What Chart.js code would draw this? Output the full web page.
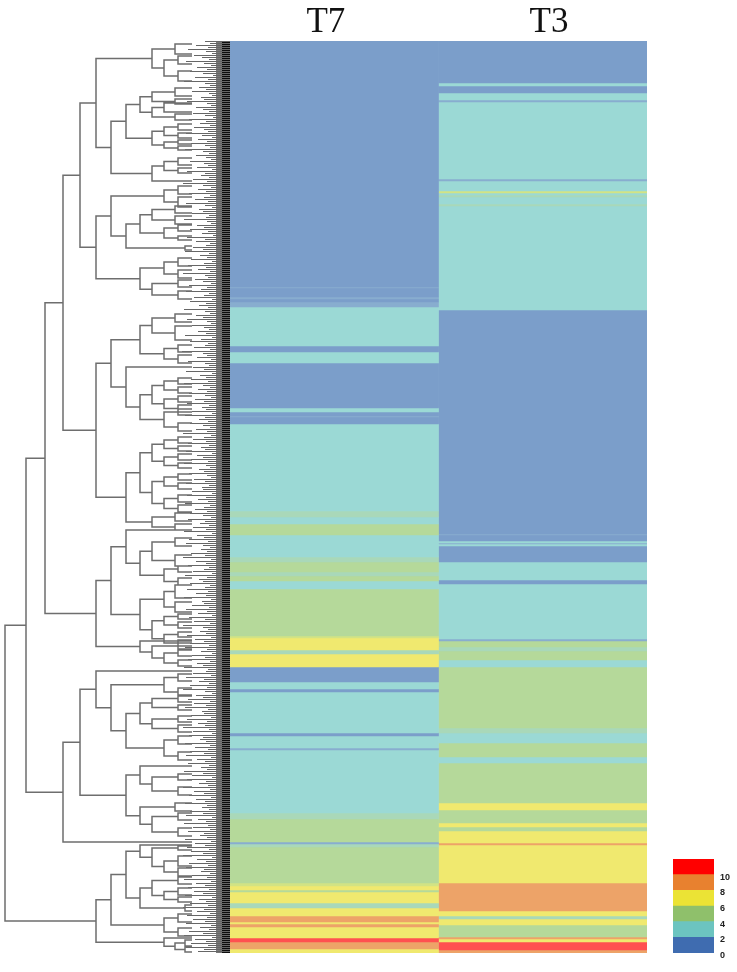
<!DOCTYPE html>
<html>
<head>
<meta charset="utf-8">
<script src="https://cdn.jsdelivr.net/npm/chart.js@4"></script>
<style>
  html, body { margin: 0; padding: 0; background: #fff; overflow: hidden; }
  canvas { position: absolute; top: 0; }
  #dendroChart { left: 0; filter: blur(0.55px); }
  #heatChart { left: 230px; filter: blur(0.35px); }
  #legendChart { left: 660px; filter: blur(0.35px); }
</style>
</head>
<body>
<canvas id="dendroChart" width="230" height="972"></canvas>
<canvas id="heatChart" width="417" height="972"></canvas>
<canvas id="legendChart" width="77" height="972"></canvas>
<script>
// Colunas do heatmap
const columnLabels = ['T7', 'T3'];
const columnLabelPositions = [0.46, 1.53];

// Cada faixa: quantos genes e qual o nivel de expressao
const t7Counts = [246,1,9,2,3,5,39,6,11,45,4,4,1,7,87,6,7,11,22,5,10,4,5,8,47,2,12,4,13,15,7,3,41,3,12,2,63,6,23,2,3,36,3,4,2,11,5,8,6,2,3,11,4,7,4];
const t7Levels = [1,2,1,2,1,2,3,1,3,1,3,1,2,1,3,4,3,5,3,4,5,4,5,3,5,6,7,4,7,1,3,1,3,1,3,2,3,4,5,2,4,5,6,7,5,7,4,7,9,7,9,7,11,9,7];
const t3Counts = [42,3,7,7,2,77,2,10,2,2,2,7,2,104,224,1,6,2,1,2,16,18,4,55,2,6,4,9,7,61,5,10,14,6,40,7,13,4,4,12,2,38,28,5,3,6,12,2,3,8,3];
const t3Levels = [1,3,1,3,2,3,2,3,6,3,4,3,4,3,1,2,1,3,2,3,1,3,1,3,2,5,4,5,3,5,4,3,5,3,5,7,5,7,5,7,9,7,9,7,4,7,5,9,7,11,9];
const levelColors = [null,'#7b9eca','#88adcf','#9bd9d5','#a9d8b9','#b5d99a','#d2e384','#f0e96f','#efc86c','#eda368','#f87a5c','#ff5050'];

// Legenda
const legendSteps = [2,2,2,2,2,2];
const legendColors = ['#3f6cb0','#6cc4c0','#8fc06b','#ebe335','#e8812f','#ff0000'];

// Dendrograma: [altura, filho de cima, filho de baixo]; numero = linha da folha
const clusterTree = [5,
  [26,
    [45,
      [63,
        [80,
          [96,
            [152,[175,44,54],[164,[178,56,64],[178,71,81]]],
            [111,
              [126,
                [140,[152,[175,88,96],[175,99,104]],[152,[164,103,112],[175,114,120]]],
                [152,[164,[178,124,130],[178,133,138]],[164,[178,140,144],[178,146,150]]]
              ],
              [152,[164,[178,158,165],[178,168,173]],181]
            ]
          ],
          [96,
            [111,
              [164,[178,186,194],[178,197,207]],
              [126,
                [140,[152,[175,206,213],[175,216,224]],[164,[178,225,231],[178,236,240]]],
                [185,246,250]
              ]
            ],
            [140,
              [164,[178,258,266],[178,270,278]],
              [152,[178,280,287],[178,291,299]]
            ]
          ]
        ],
        [96,
          [111,
            [140,[152,[175,314,322],[175,326,340]],[164,[178,345,352],[178,355,363]]],
            [126,
              367,
              [140,
                [152,[164,[178,378,384],[178,387,393]],[164,[178,396,402],[178,405,412]]],
                [164,[178,409,415],[178,423,431]]
              ]
            ]
          ],
          [126,
            [140,
              [152,[164,[178,437,443],[178,446,451]],[164,[178,454,460],[178,463,468]]],
              [152,[164,[178,474,480],[178,483,489]],[164,[178,495,502],[178,505,512]]]
            ],
            [152,[175,513,521],[175,524,530]]
          ]
        ]
      ],
      [96,
        [111,
          [126,
            530,
            [140,[152,[175,538,546],[175,555,566]],[164,[178,566,572],[178,578,585]]]
          ],
          [140,
            [164,[175,585,598],[175,602,612]],
            [152,[164,[178,614,619],[178,622,628]],[164,[178,632,637],[178,640,646]]]
          ]
        ],
        [140,641,[152,[178,643,649],[164,[178,650,656],[178,660,666]]]]
      ]
    ],
    [63,
      [80,
        [96,
          671,
          [111,
            [164,[178,674,681],[178,688,696]],
            [126,
              [140,[152,[178,695,702],[178,705,710]],[152,[178,716,722],[178,725,732]]],
              [164,[178,736,744],[178,752,760]]
            ]
          ]
        ],
        [126,
          [140,766,[152,[178,774,780],[178,787,795]]],
          [140,[175,803,811],[152,[178,813,820],[178,828,836]]]
        ]
      ],
      842
    ]
  ],
  [96,
    [111,
      [126,
        [140,845,[152,[178,846,850],[164,[178,856,866],[178,868,876]]]],
        [140,[152,[178,877,884],[164,[178,888,895],[178,897,902]]],[185,905,911]]
      ],
      [164,[178,914,922],[178,928,936]]
    ],
    [164,938,[175,[185,940,946],[185,947,952]]]
  ]
];
const leafEnd = 192;

// Inicio de cada ramo fino, de cima para baixo (um a cada 2 linhas)
const twigStarts = [
  205,210,196,208,188,206,212,194,202,209,186,204,211,197,207,190,203,213,195,208,184,205,210,199,206,192,209,212,201,204,
  187,207,211,196,203,209,193,205,213,189,206,200,210,194,204,208,186,202,212,198,207,191,205,210,185,203,209,196,206,211,
  190,204,208,197,212,187,205,201,209,193,207,183,203,211,198,206,189,210,204,195,208,186,205,212,199,203,192,209,206,184,
  207,211,197,204,190,208,202,213,187,205,196,210,206,193,203,185,209,200,207,191,212,204,188,206,198,210,183,205,208,195,
  203,211,189,207,201,186,209,204,194,212,190,206,199,208,184,205,210,196,203,187,207,211,192,204,209,198,206,185,212,201,
  190,208,205,194,210,182,203,207,197,211,188,205,209,193,204,186,212,200,206,191,208,184,203,210,198,207,189,205,211,195,
  204,187,209,202,206,192,212,185,205,199,208,190,203,210,196,207,183,211,204,193,206,188,209,201,205,186,212,197,203,191,
  208,184,206,210,199,204,189,207,211,194,205,186,209,202,203,192,212,187,206,198,208,185,210,204,195,207,190,203,211,188,
  205,200,209,193,206,184,212,197,204,189,208,186,203,210,201,207,191,205,183,211,196,206,188,209,204,193,212,185,207,199,
  203,190,210,205,187,208,196,206,184,211,202,204,192,209,186,207,198,212,189,205,194,210,183,203,208,200,206,187,211,195,
  204,190,209,185,207,201,212,192,205,188,210,197,203,184,208,206,193,211,186,204,199,209,190,207,183,205,212,196,203,188,
  210,194,206,185,208,202,204,191,211,187,207,198,205,183,209,193,212,189,203,200,206,185,210,195,208,190,204,186,211,197,
  205,188,209,201,207,184,203,192,212,187,206,199,208,183,210,194,204,189,211,196,205,185,207,202,209,190,203,186,212,198,
  206,184,208,193,210,188,204,200,207,185,211,195,205,187,209,191,203,183,212,197,206,189,208,186,204,201,210,192,207,184,
  211,196,205,188,209,194,203,185,212,199,206,190,208,183,204,197,210,187,207,193,205,186,211,200,209,189,203,184,212,195,
  206,191,208,186,204,198,210,183,207,192,205,188,211,201
];
const tipsRange = [41, 953];

const heatChartData = (counts, levels, index) => counts.map((count, i) => ({
  data: index === 0 ? [count, null] : [null, count],
  backgroundColor: levelColors[levels[i]],
  borderWidth: 0,
  barPercentage: 1,
  categoryPercentage: 1,
  stack: 'bands'
}));

// Percorre a arvore e devolve a linha do no, juntando os segmentos
function walkTree(node, segments) {
  if (typeof node === 'number') return node;
  const [height, top, bottom] = node;
  const topRow = walkTree(top, segments);
  const bottomRow = walkTree(bottom, segments);
  const topEnd = typeof top === 'number' ? leafEnd : top[0];
  const bottomEnd = typeof bottom === 'number' ? leafEnd : bottom[0];
  segments.push(
    { x: topEnd, y: topRow }, { x: height, y: topRow }, { x: height, y: bottomRow }, { x: bottomEnd, y: bottomRow },
    { x: null, y: null }
  );
  return (topRow + bottomRow) / 2;
}

const treeSegments = [];
const rootRow = walkTree(clusterTree, treeSegments);

const twigSegments = [];
twigStarts.forEach((start, i) => {
  const row = tipsRange[0] + 0.5 + i * 2;
  twigSegments.push({ x: start, y: row }, { x: 230, y: row }, { x: null, y: null });
});

const lineStyle = { showLine: true, pointRadius: 0, spanGaps: false, tension: 0 };

new Chart(document.getElementById('dendroChart'), {
  type: 'scatter',
  data: {
    datasets: [
      { ...lineStyle, data: treeSegments, borderColor: '#6e6e6e', borderWidth: 1.5 },
      { ...lineStyle, data: twigSegments, borderColor: '#666', borderWidth: 1.2 },
      { ...lineStyle, data: tipsRange.map(r => ({ x: 219, y: r })), borderColor: 'rgba(30,30,30,0.6)', borderWidth: 6 },
      { ...lineStyle, data: tipsRange.map(r => ({ x: 226, y: r })), borderColor: '#0c0c0c', borderWidth: 8 }
    ]
  },
  options: {
    responsive: false,
    animation: false,
    layout: { padding: { top: 41, bottom: 19, left: 0, right: 0 } },
    plugins: { legend: { display: false }, tooltip: { enabled: false } },
    scales: {
      x: { type: 'linear', min: 0, max: 230, display: false },
      y: { type: 'linear', min: 41, max: 953, reverse: true, display: false }
    }
  }
});

new Chart(document.getElementById('heatChart'), {
  type: 'bar',
  data: {
    labels: columnLabels,
    datasets: [...heatChartData(t7Counts, t7Levels, 0), ...heatChartData(t3Counts, t3Levels, 1)]
  },
  options: {
    responsive: false,
    animation: false,
    layout: { padding: { bottom: 19 } },
    plugins: { legend: { display: false }, tooltip: { enabled: false } },
    scales: {
      x: { stacked: true, display: false },
      y: { stacked: true, min: 0, max: 912, reverse: true, display: false },
      labelAxis: {
        axis: 'x',
        type: 'linear',
        position: 'top',
        offset: false,
        min: 0,
        max: 2,
        border: { display: false },
        grid: { display: false, drawTicks: false, offset: false },
        afterBuildTicks: axis => { axis.ticks = columnLabelPositions.map(value => ({ value })); },
        afterFit: axis => { axis.height = 41; },
        ticks: {
          autoSkip: false,
          maxRotation: 0,
          padding: -3,
          color: '#111',
          font: { family: '"Liberation Serif"', size: 35 },
          callback: (value, i) => columnLabels[i]
        }
      }
    }
  }
});

new Chart(document.getElementById('legendChart'), {
  type: 'bar',
  data: {
    labels: ['scale'],
    datasets: legendSteps.map((step, i) => ({
      data: [step],
      backgroundColor: legendColors[i],
      borderWidth: 0,
      barPercentage: 1,
      categoryPercentage: 1
    }))
  },
  options: {
    responsive: false,
    animation: false,
    layout: { padding: { top: 859, bottom: 19, left: 13 } },
    plugins: { legend: { display: false }, tooltip: { enabled: false } },
    scales: {
      x: { stacked: true, display: false },
      y: {
        stacked: true,
        position: 'right',
        min: 0,
        max: 12,
        border: { display: false },
        grid: { display: false, drawTicks: false },
        afterFit: axis => { axis.width = 23; },
        ticks: {
          stepSize: 2,
          padding: 6,
          labelOffset: 2.4,
          color: '#222',
          font: { family: '"Liberation Sans"', size: 9, weight: 'bold' },
          callback: value => value < 12 ? value : ''
        }
      }
    }
  }
});
</script>
</body>
</html>
